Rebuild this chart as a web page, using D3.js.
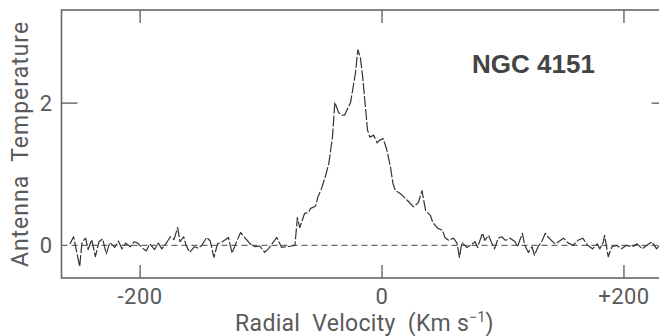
<!DOCTYPE html>
<html>
<head>
<meta charset="utf-8">
<script src="https://cdn.jsdelivr.net/npm/d3@7"></script>
<style>
  html, body {margin: 0; padding: 0; background: #fff;}
  svg {display: block;}
</style>
</head>
<body>
<div id="chart"></div>
<script>
// spectrum: radial velocity (km/s) and antenna temperature
const velocity = [
  -258, -255, -253, -250, -248, -245, -243, -240, -237, -234, -231, -228, -225, -221, -218, -215,
  -212, -208, -205, -202, -198, -195, -192, -188, -185, -182, -178, -175, -172, -169, -167, -164,
  -162, -159, -155, -152, -149, -145, -142, -139, -136, -132, -127, -124, -121, -117, -112, -109,
  -105, -101, -97, -94, -91, -87, -83, -79, -75, -72, -70, -68, -64, -61, -59, -55,
  -53, -50, -47, -44, -41, -39, -36, -33, -31, -26, -22, -20, -18, -16, -12, -10,
  -7, -4, -2, 1, 4, 7, 9, 11, 15, 21, 26, 30, 33, 36, 40, 42,
  46, 50, 52, 55, 59, 62, 64, 66, 70, 73, 77, 79, 83, 85, 88, 91,
  93, 96, 99, 102, 106, 110, 112, 116, 118, 121, 124, 126, 129, 132, 135, 137,
  140, 143, 145, 150, 154, 158, 162, 166, 170, 174, 178, 180, 183, 184, 187, 190,
  194, 198, 202, 207, 211, 215, 219, 223, 227, 230
];
const temperature = [
  0.02, 0.12, -0.05, -0.30, 0.05, 0.10, -0.06, 0.08, -0.16, 0.05, 0.09, -0.12, 0.04, -0.03, 0.06, -0.05,
  0.03, -0.02, 0.05, 0.03, -0.04, -0.08, 0.02, -0.06, 0.03, -0.05, 0.04, 0.12, 0.08, 0.25, 0.05, 0.12,
  0.00, -0.10, -0.02, -0.04, 0.00, 0.11, 0.06, -0.17, 0.02, 0.05, 0.11, -0.11, 0.02, 0.18, 0.08, 0.02,
  -0.02, -0.01, -0.10, -0.05, 0.02, 0.11, -0.03, -0.02, -0.01, 0.00, 0.39, 0.25, 0.45, 0.46, 0.52, 0.55,
  0.68, 0.80, 0.96, 1.15, 1.52, 2.01, 1.87, 1.83, 1.83, 2.01, 2.42, 2.75, 2.65, 2.37, 1.62, 1.52,
  1.55, 1.44, 1.48, 1.50, 1.34, 1.10, 0.87, 0.77, 0.73, 0.63, 0.54, 0.60, 0.77, 0.49, 0.42, 0.32,
  0.24, 0.21, 0.11, 0.07, 0.10, 0.03, -0.17, 0.04, -0.03, 0.00, 0.05, -0.03, 0.17, 0.07, 0.14, 0.02,
  -0.05, 0.10, 0.12, 0.07, 0.10, 0.05, -0.02, 0.17, 0.00, -0.10, -0.02, -0.14, -0.02, 0.05, 0.17, 0.12,
  0.07, 0.02, 0.04, 0.10, 0.03, 0.00, 0.07, 0.10, 0.00, -0.05, 0.02, -0.05, 0.05, 0.14, -0.16, -0.02,
  0.00, -0.05, 0.00, -0.02, 0.02, -0.05, 0.00, 0.05, -0.05, 0.02
];

const xTicks = [-200, 0, 200];
const xTickLabels = ['-200', '0', '+200'];
const yTicks = [0, 2];
const yTickLabels = ['0', '2'];

const title = 'NGC 4151';
const xTitle = 'Radial  Velocity  (Km s';
const yTitle = 'Antenna  Temperature';

const width = 659;
const height = 336;
const plot = {left: 61.5, top: 10, right: 667.5, bottom: 278};
const ink = '#5a5a5a';
const font = 'Roboto, "DejaVu Sans", sans-serif';

const x = d3.scaleLinear().domain([-265, 236]).range([plot.left, plot.right]);
const y = d3.scaleLinear().domain([-0.46, 3.31]).range([plot.bottom, plot.top]);

const svg = d3.select('#chart').append('svg')
  .attr('width', width)
  .attr('height', height)
  .attr('font-family', font);

// zero level
svg.append('line')
  .attr('x1', plot.left).attr('x2', plot.right)
  .attr('y1', y(0)).attr('y2', y(0))
  .attr('stroke', '#6a6a6a')
  .attr('stroke-width', 1.3)
  .attr('stroke-dasharray', '6,4');

// spectrum trace, pen breaks a little between channels
const points = velocity.map((v, i) => [v, temperature[i]]);
const line = d3.line()
  .x((d) => x(d[0]))
  .y((d) => y(d[1]));

svg.append('path')
  .datum(points)
  .attr('fill', 'none')
  .attr('stroke', '#333')
  .attr('stroke-width', 1.2)
  .attr('stroke-linejoin', 'round')
  .attr('stroke-dasharray', '11,2')
  .attr('d', line);

// frame, right side runs off the picture
svg.append('rect')
  .attr('x', plot.left).attr('y', plot.top)
  .attr('width', plot.right - plot.left)
  .attr('height', plot.bottom - plot.top)
  .attr('fill', 'none')
  .attr('stroke', '#666')
  .attr('stroke-width', 1.6);

// inward ticks: top and bottom
const xTickLen = 13;
svg.append('g')
  .attr('stroke', '#666')
  .attr('stroke-width', 1.4)
  .selectAll('line')
  .data(xTicks.flatMap((t) => [[t, plot.top, plot.top + xTickLen], [t, plot.bottom, plot.bottom - xTickLen]]))
  .join('line')
  .attr('x1', (d) => x(d[0])).attr('x2', (d) => x(d[0]))
  .attr('y1', (d) => d[1]).attr('y2', (d) => d[2]);

// inward ticks: left and right, the zero one is hidden by the dashed level
const yTickLen = 16;
svg.append('g')
  .attr('stroke', '#666')
  .attr('stroke-width', 1.4)
  .selectAll('line')
  .data(yTicks.filter((t) => t !== 0).flatMap((t) => [[t, plot.left, plot.left + yTickLen], [t, plot.right, plot.right - yTickLen]]))
  .join('line')
  .attr('y1', (d) => y(d[0])).attr('y2', (d) => y(d[0]))
  .attr('x1', (d) => d[1]).attr('x2', (d) => d[2]);

// tick labels
svg.append('g')
  .attr('fill', ink)
  .attr('font-size', 22)
  .attr('letter-spacing', 0.5)
  .attr('text-anchor', 'middle')
  .selectAll('text')
  .data(xTicks)
  .join('text')
  .attr('x', (d) => x(d))
  .attr('y', 304)
  .text((d, i) => xTickLabels[i]);

svg.append('g')
  .attr('fill', ink)
  .attr('font-size', 22)
  .attr('text-anchor', 'end')
  .selectAll('text')
  .data(yTicks)
  .join('text')
  .attr('x', 52)
  .attr('y', (d) => y(d))
  .attr('dy', '0.36em')
  .text((d, i) => yTickLabels[i]);

// axis titles
const xt = svg.append('text')
  .attr('x', (plot.left + plot.right) / 2)
  .attr('y', 331)
  .attr('text-anchor', 'middle')
  .attr('fill', ink)
  .attr('font-size', 23)
  .attr('letter-spacing', 0.3)
  .attr('xml:space', 'preserve')
  .text(xTitle);
xt.append('tspan')
  .attr('font-size', 14)
  .attr('dy', -9)
  .text('\u22121');
xt.append('tspan')
  .attr('dy', 9)
  .text(')');

svg.append('text')
  .attr('transform', `translate(28,${(plot.top + plot.bottom) / 2}) rotate(-90)`)
  .attr('text-anchor', 'middle')
  .attr('fill', ink)
  .attr('font-size', 23)
  .attr('letter-spacing', 1)
  .attr('xml:space', 'preserve')
  .text(yTitle);

// object name
svg.append('text')
  .attr('x', 472)
  .attr('y', 73)
  .attr('fill', '#444')
  .attr('font-family', '"Liberation Sans", Arial, sans-serif')
  .attr('font-weight', 'bold')
  .attr('font-size', 26)
  .text(title);
</script>
</body>
</html>
